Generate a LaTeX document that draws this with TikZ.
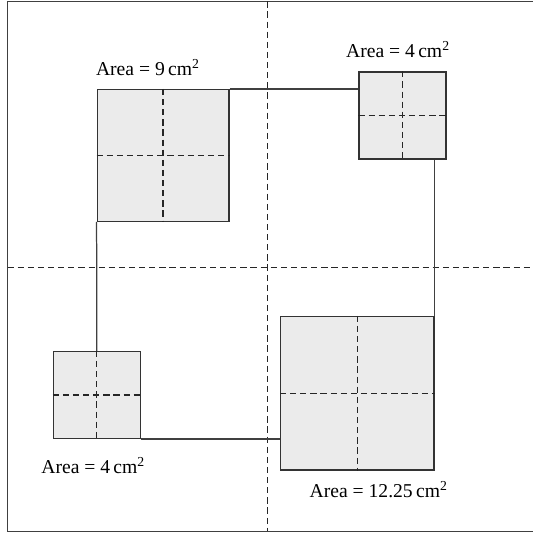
\documentclass[tikz,border=0pt]{standalone}
\usepackage{fontspec}
\setmainfont{Liberation Serif}
\usetikzlibrary{positioning}
\begin{document}
\begin{tikzpicture}
  \tikzstyle{square}=[draw=black!80,fill=black!8,line width=0.9pt,inner sep=0pt,anchor=south west]
  \tikzstyle{split}=[draw=black!85,line width=0.8pt,dash pattern=on 4pt off 2.5pt]
  \tikzstyle{link}=[draw=black!75,line width=0.8pt]
  \tikzstyle{area}=[inner sep=0pt,font=\fontsize{12.6}{14}\selectfont]
  \useasboundingbox (-6.03,-6.0) rectangle (6.0,6.03);
  % frame and axes
  \draw[link] (6.3,6.0) -- (-5.86,6.0) -- (-5.86,-5.96) -- (6.3,-5.96);
  \draw[split] (0,6.0) -- (0,-5.96);
  \draw[split] (-5.86,0) -- (6.3,0);
  % squares
  \node[square,minimum size=2.97cm]  (nine)    at (-3.85,1.02)  {};
  \node[square,minimum size=1.96cm]  (fourtop) at (2.06,2.43)   {};
  \node[square,minimum size=3.46cm]  (twelve)  at (0.29,-4.59)  {};
  \node[square,minimum size=1.96cm]  (fourbot) at (-4.84,-3.88) {};
  \foreach \sq in {nine,fourtop,twelve,fourbot}{
    \draw[split] (\sq.north) -- (\sq.south);
    \draw[split] (\sq.west) -- (\sq.east);
  }
  % links
  \draw[link] (nine.north east) -- (nine.north east -| fourtop.west);
  \draw[link] (twelve.north east) -- (twelve.north east |- fourtop.south);
  \draw[link] (fourbot.south east) -- (fourbot.south east -| twelve.west);
  \draw[link] (fourbot.north) -- (nine.south west);
  % labels
  \node[area,above right=0.3cm and -0.02cm of nine.north west,anchor=base west] (ninelabel) {Area = 9\,cm\textsuperscript{2}};
  \node[area,above left=0.32cm and -0.08cm of fourtop.north east,anchor=base east] (fourtoplabel) {Area = 4\,cm\textsuperscript{2}};
  \node[area,below left=0.77cm and -0.1cm of fourbot.south east,anchor=base east] (fourbotlabel) {Area = 4\,cm\textsuperscript{2}};
  \node[area,below left=0.61cm and -0.3cm of twelve.south east,anchor=base east] (twelvelabel) {Area = 12.25\,cm\textsuperscript{2}};
\end{tikzpicture}
\end{document}
